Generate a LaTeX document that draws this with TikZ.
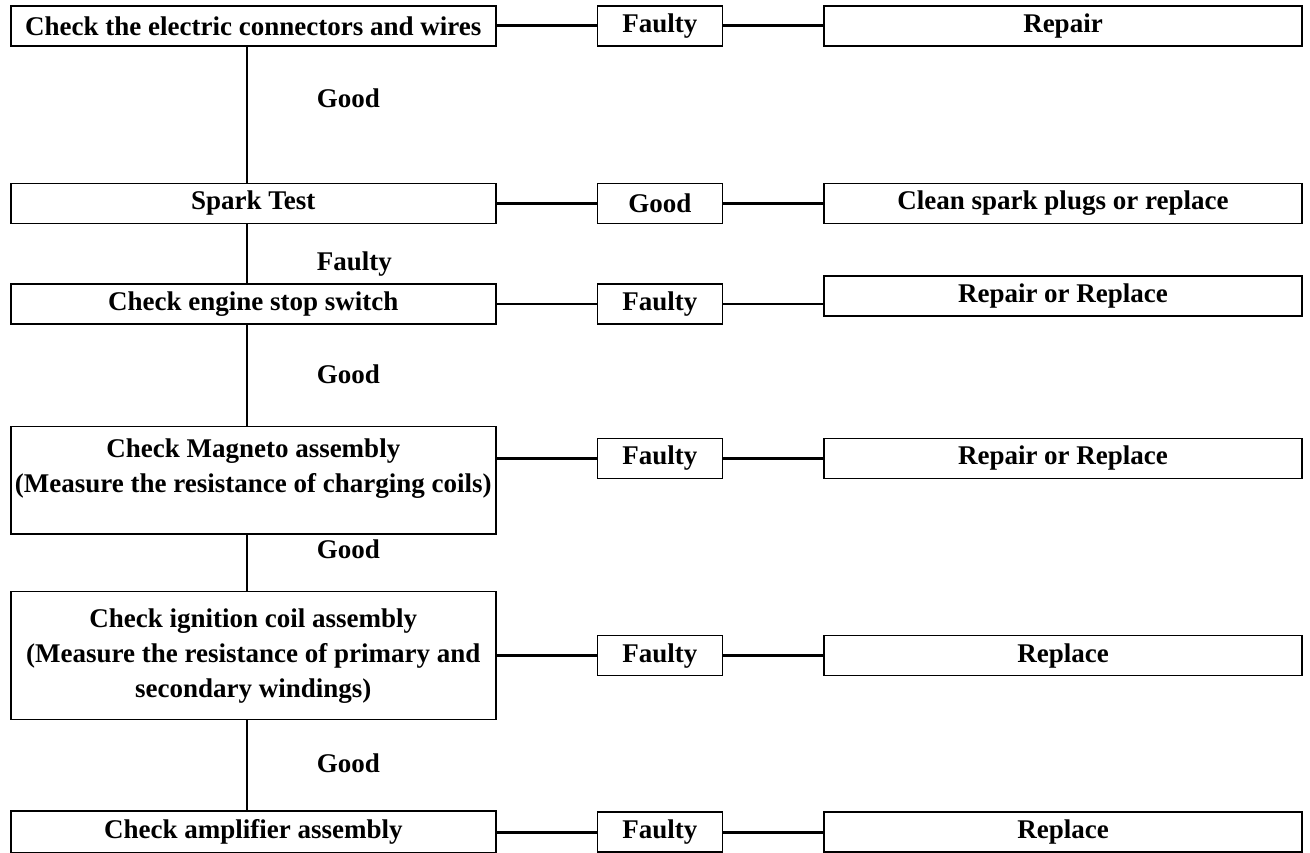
\documentclass[tikz,border=0pt]{standalone}
\usepackage{fontspec}
\setmainfont{Liberation Serif}
\usetikzlibrary{matrix}

\newcommand\lines[1]{\begin{tabular}{@{}c@{}}#1\end{tabular}}

\tikzset{
  check/.style={draw, line width=0.8pt, inner sep=3pt, minimum width=242.5pt,
    minimum height=20pt},
  verdict/.style={draw, line width=0.8pt, inner sep=3pt, minimum width=62.5pt,
    minimum height=20pt},
  action/.style={draw, line width=0.8pt, inner sep=3pt, minimum width=239pt,
    minimum height=20pt},
  link/.style={line width=1.4pt},
  flow/.style={line width=1pt},
}

\begin{document}
\begin{tikzpicture}[x=0.5pt,y=-0.5pt,font=\bfseries\fontsize{13.5}{17.5}\selectfont]
    \useasboundingbox (0,0) rectangle (1310,852);
    \matrix[matrix of nodes, anchor=north west, inner sep=0pt, outer sep=0pt,
    column sep=50pt, row sep=0pt, nodes={anchor=center}] at (10,5)
    {
      |[check,name=c1]| Check the electric connectors and wires
        &|[verdict,name=v1]| Faulty &|[action,name=a1]| Repair \\[68pt]
      |[check,name=c2]| Spark Test
        &|[verdict,name=v2]| Good &|[action,name=a2]| Clean spark plugs or replace \\[25.5pt]
      |[check,name=c3]| Check engine stop switch
        &|[verdict,name=v3]| Faulty &|[action,name=a3,yshift=4pt]| Repair or Replace \\[50.5pt]
      |[check,name=c4,inner xsep=1pt,minimum height=53.5pt,text depth=26.6pt]| \lines{Check Magneto assembly\\(Measure the resistance of charging coils)}
        &|[verdict,name=v4,yshift=11pt]| Faulty &|[action,name=a4,yshift=11pt]| Repair or Replace \\[28pt]
      |[check,name=c5,inner xsep=1pt,minimum height=64pt]| \lines{Check ignition coil assembly\\(Measure the resistance of primary and\\secondary windings)}
        &|[verdict,name=v5]| Faulty &|[action,name=a5]| Replace \\[45pt]
      |[check,name=c6,minimum height=21pt]| Check amplifier assembly
        &|[verdict,name=v6]| Faulty &|[action,name=a6]| Replace \\
    };
    \draw[link]
      (c1) edge (v1)
      (v1) edge (a1)
      (c2) edge (v2)
      (v2) edge (a2)
      (c3) edge (v3)
      (v3) edge (a3.west |- v3)
      (c4.east |- v4) edge (v4)
      (v4) edge (a4)
      (c5) edge (v5)
      (v5) edge (a5)
      (c6) edge (v6)
      (v6) edge (a6.west |- v6);
    % the main line runs a little left of the box centres
    \draw[flow]
      ([xshift=-3pt]c1.south) edge node[pos=0.38,right=31pt] {Good} ([xshift=-3pt]c2.north)
      ([xshift=-3pt]c2.south) edge node[pos=0.67,right=31pt] {Faulty} ([xshift=-3pt]c3.north)
      ([xshift=-3pt]c3.south) edge node[pos=0.49,right=31pt] {Good} ([xshift=-3pt]c4.north)
      ([xshift=-3pt]c4.south) edge node[pos=0.26,right=31pt] {Good} ([xshift=-3pt]c5.north)
      ([xshift=-3pt]c5.south) edge node[pos=0.48,right=31pt] {Good} ([xshift=-3pt]c6.north);
  \end{tikzpicture}
\end{document}
